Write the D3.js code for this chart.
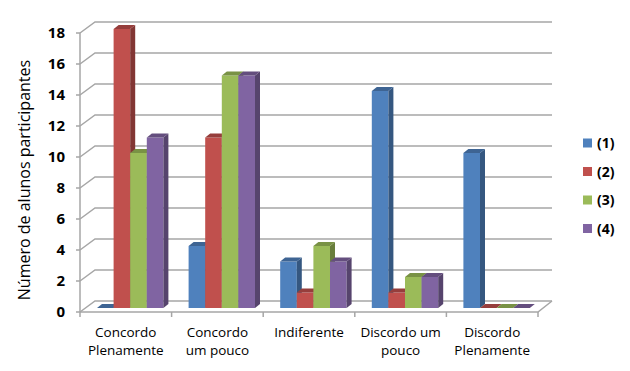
<!DOCTYPE html>
<html>
<head>
<meta charset="utf-8">
<script src="https://cdn.jsdelivr.net/npm/d3@7"></script>
<style>
body { margin:0; background:#fff; }
text { font-family: "Open Sans", sans-serif; fill:#000; }
</style>
</head>
<body>
<div class="container"></div>
<script>
// data
var categories = ["Concordo Plenamente", "Concordo um pouco", "Indiferente", "Discordo um pouco", "Discordo Plenamente"];
var catLines = [["Concordo","Plenamente"],["Concordo","um pouco"],["Indiferente"],["Discordo um","pouco"],["Discordo","Plenamente"]];
var series = ["(1)", "(2)", "(3)", "(4)"];
var colors = ["#4f81bd", "#c0504d", "#9bbb59", "#8064a2"];
var s1 = [0, 4, 3, 14, 10];
var s2 = [18, 11, 1, 1, 0];
var s3 = [10, 15, 4, 2, 0];
var s4 = [11, 15, 3, 2, 0];
var values = [s1, s2, s3, s4];
var yTicks = [0, 2, 4, 6, 8, 10, 12, 14, 16, 18];

var W = 630, H = 371;
var svg = d3.select(".container").append("svg").attr("width", W).attr("height", H);

// depth of the back wall
var wx = 15, wy = -11;
// bar face offset and bar depth
var bx = 5, by = -4, dx = 5, dy = -4;

var x0 = d3.scaleBand().domain(categories).range([80, 538]);
var x1 = d3.scaleBand().domain(series).range([12, 12 + 4 * 16.6]);
var y = d3.scaleLinear().domain([0, 18]).range([312, 33]);

var grid = "#a6a6a6";

// gridlines: diagonal on the side wall + horizontal on the back wall
yTicks.forEach(function(t) {
	var yy = y(t);
	svg.append("path")
		.attr("d", "M80," + yy + "L" + (80 + wx) + "," + (yy + wy) + "L552," + (yy + wy))
		.attr("fill", "none").attr("stroke", grid).attr("stroke-width", 1.5);
});

// floor
svg.append("path")
	.attr("d", "M80,312L538,312L552," + (312 + wy))
	.attr("fill", "none").attr("stroke", grid).attr("stroke-width", 1.5);

// y axis
svg.append("line").attr("x1", 80).attr("x2", 80).attr("y1", y(18)).attr("y2", y(0))
	.attr("stroke", grid).attr("stroke-width", 1.5);
svg.selectAll(".ytick").data(yTicks).enter().append("line")
	.attr("x1", 76).attr("x2", 80).attr("y1", function(d){return y(d);}).attr("y2", function(d){return y(d);})
	.attr("stroke", grid).attr("stroke-width", 1.5);
svg.selectAll(".ylab").data(yTicks).enter().append("text")
	.attr("x", 65).attr("y", function(d){return y(d);}).attr("dy", "0.36em")
	.attr("text-anchor", "end").style("font-size", "15px").style("font-weight", "700")
	.text(function(d){return d;});

// category ticks
var cticks = categories.map(function(c){return x0(c);}).concat([538]);
svg.selectAll(".xtick").data(cticks).enter().append("line")
	.attr("x1", function(d){return d;}).attr("x2", function(d){return d;})
	.attr("y1", 312).attr("y2", 317).attr("stroke", grid).attr("stroke-width", 1.5);

// bars
categories.forEach(function(c, ci) {
	series.forEach(function(s, si) {
		var v = values[si][ci];
		var col = d3.color(colors[si]);
		var xl = x0(c) + x1(s) + bx;
		var w = x1.bandwidth();
		var yb = y(0) + by, yt = y(v) + by;
		var g = svg.append("g");
		if (v > 0) {
			g.append("rect").attr("x", xl).attr("y", yt).attr("width", w).attr("height", yb - yt)
				.attr("fill", col);
			g.append("path")
				.attr("d", "M" + (xl + w) + "," + yt + "L" + (xl + w + dx) + "," + (yt + dy) +
					"L" + (xl + w + dx) + "," + (yb + dy) + "L" + (xl + w) + "," + yb + "Z")
				.attr("fill", col.darker(1.1));
		}
		g.append("path")
			.attr("d", "M" + xl + "," + yt + "L" + (xl + w) + "," + yt + "L" + (xl + w + dx) + "," + (yt + dy) +
				"L" + (xl + dx) + "," + (yt + dy) + "Z")
			.attr("fill", col.darker(0.7));
	});
});

// category labels
catLines.forEach(function(lines, i) {
	var cx = x0(categories[i]) + x0.bandwidth() / 2;
	var t = svg.append("text").attr("x", cx).attr("y", 337).attr("text-anchor", "middle")
		.style("font-size", "13.5px").style("font-weight", "500");
	lines.forEach(function(l, li) {
		t.append("tspan").attr("x", cx).attr("dy", li === 0 ? 0 : 18).text(l);
	});
});

// axis title
svg.append("text").attr("transform", "translate(30,180) rotate(-90)")
	.attr("text-anchor", "middle").style("font-size", "16px")
	.text("Número de alunos participantes");

// legend
series.forEach(function(s, i) {
	var ly = 143 + i * 28.5;
	svg.append("rect").attr("x", 583).attr("y", ly - 4.5).attr("width", 9).attr("height", 9).attr("fill", colors[i]);
	svg.append("text").attr("x", 597).attr("y", ly).attr("dy", "0.36em")
		.style("font-size", "14px").style("font-weight", "700").text(s);
});
</script>
</body>
</html>
